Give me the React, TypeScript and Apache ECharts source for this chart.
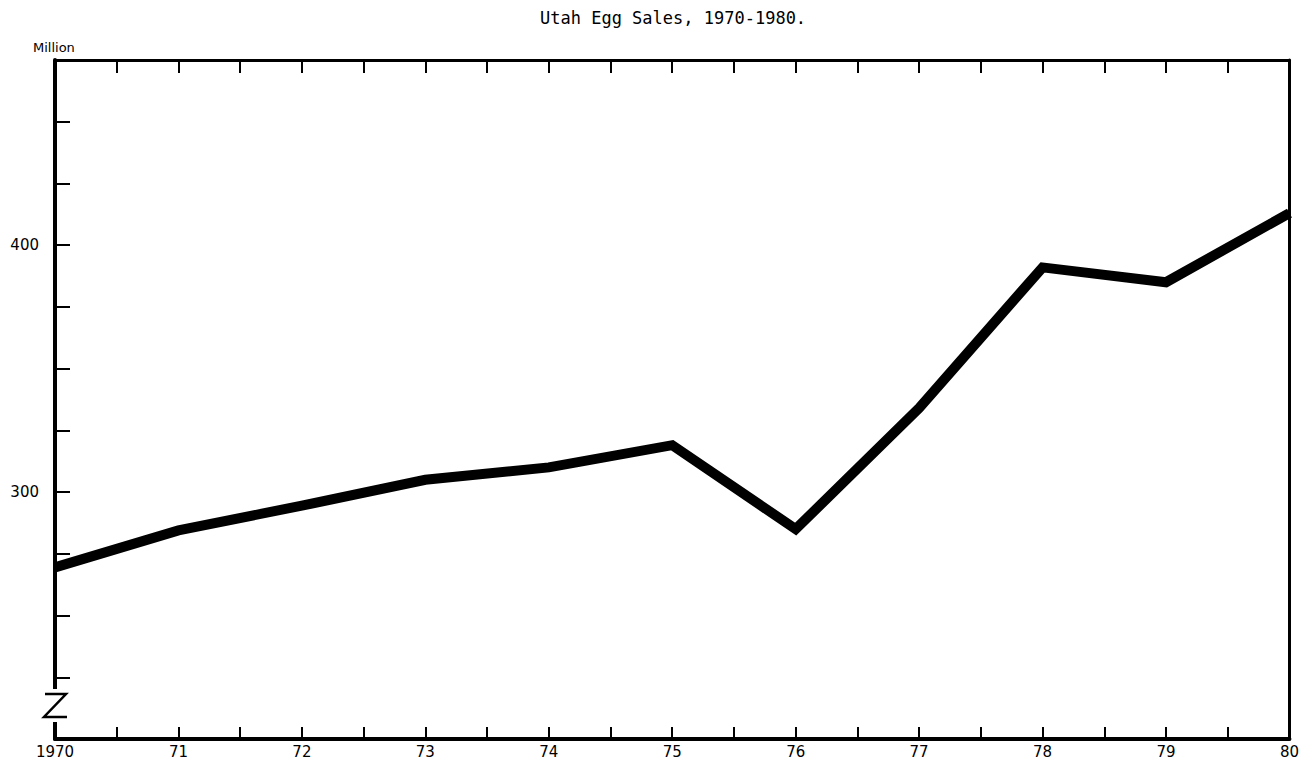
import React, { useEffect, useRef } from "react";
import * as echarts from "echarts";

const years = [1970, 1971, 1972, 1973, 1974, 1975, 1976, 1977, 1978, 1979, 1980];
const sales = [269.5, 284.5, 294.5, 305, 310, 319, 285, 334, 391, 385, 413];
const yLabeled = [300, 400];
const titleText = "Utah Egg Sales, 1970-1980.";
const unitText = "Million";

export default function App() {
  const ref = useRef<HTMLDivElement>(null);
  useEffect(() => {
    document.body.style.margin = "0";
    const chart = echarts.init(ref.current!, null, { renderer: "svg" });
    const labelFont = "DejaVu Sans";
    const xFmt = (v: number) => {
      if (Math.abs(v - Math.round(v)) > 1e-6) return "";
      const y = Math.round(v);
      return y === years[0] ? String(y) : String(y).slice(2);
    };
    const option: any = {
      animation: false,
      backgroundColor: "#fff",
      title: [
        {
          text: titleText,
          left: 535,
          top: 4,
          textStyle: { fontFamily: "DejaVu Sans Mono", fontSize: 17, fontWeight: "normal", color: "#000" },
        },
        {
          text: unitText,
          left: 28,
          top: 36,
          textStyle: { fontFamily: "DejaVu Sans", fontSize: 13, fontWeight: "normal", color: "#000" },
        },
      ],
      grid: { left: 55, right: 10, top: 60, bottom: 23, containLabel: false },
      xAxis: [
        {
          type: "value",
          min: 1970,
          max: 1980,
          interval: 0.5,
          position: "bottom",
          splitLine: { show: false },
          axisLine: { show: true, lineStyle: { color: "#000", width: 4 } },
          axisTick: { show: true, inside: true, length: 12, lineStyle: { color: "#000", width: 2 } },
          axisLabel: {
            show: true,
            formatter: xFmt,
            margin: 5,
            fontFamily: labelFont,
            fontSize: 15,
            color: "#000",
            showMinLabel: true,
            showMaxLabel: true,
          },
        },
        {
          type: "value",
          min: 1970,
          max: 1980,
          interval: 0.5,
          position: "top",
          splitLine: { show: false },
          axisLine: { show: true, onZero: false, lineStyle: { color: "#000", width: 3 } },
          axisTick: { show: true, inside: true, length: 13, lineStyle: { color: "#000", width: 2 } },
          axisLabel: { show: false },
        },
      ],
      yAxis: [
        {
          type: "value",
          min: 200,
          max: 475,
          interval: 25,
          position: "left",
          splitLine: { show: false },
          axisLine: { show: true, onZero: false, lineStyle: { color: "#000", width: 4 } },
          axisTick: { show: true, inside: true, length: 15, lineStyle: { color: "#000", width: 2 } },
          axisLabel: {
            show: true,
            margin: 16,
            fontFamily: labelFont,
            fontSize: 15,
            color: "#000",
            formatter: (v: number) => (yLabeled.includes(v) ? String(v) : ""),
          },
        },
        {
          type: "value",
          min: 200,
          max: 475,
          interval: 25,
          position: "right",
          splitLine: { show: false },
          axisLine: { show: true, onZero: false, lineStyle: { color: "#000", width: 3 } },
          axisTick: { show: false },
          axisLabel: { show: false },
        },
      ],
      graphic: [
        {
          type: "rect",
          z: 100,
          shape: { x: 48, y: 689, width: 14, height: 33 },
          style: { fill: "#fff" },
        },
        {
          type: "polyline",
          z: 101,
          shape: { points: [[45, 694], [66, 694], [44, 717], [67, 717]] },
          style: { stroke: "#000", lineWidth: 2.5, fill: null },
        },
      ],
      series: [
        {
          type: "line",
          xAxisIndex: 0,
          yAxisIndex: 0,
          data: years.map((y, i) => [y, sales[i]]),
          showSymbol: false,
          symbol: "none",
          lineStyle: { color: "#000", width: 10, join: "miter" },
          z: 3,
        },
      ],
    };
    chart.setOption(option);
    return () => chart.dispose();
  }, []);
  return <div ref={ref} style={{ width: 1302, height: 762 }} />;
}
